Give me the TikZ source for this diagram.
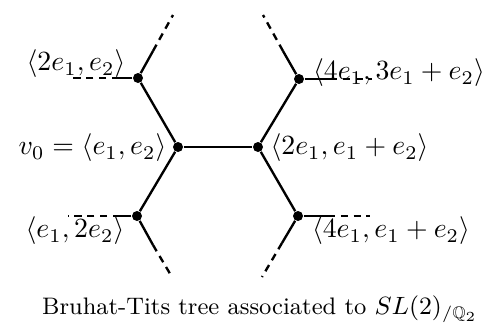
\documentclass[tikz,border=0pt]{standalone}
\usepackage{amssymb}
\usetikzlibrary{positioning}

\begin{document}
\begin{tikzpicture}[x=0.36pt,y=-0.36pt, vtx/.style={circle,fill,inner sep=0pt,minimum size=3.6pt}, edge/.style={line width=0.85pt}, tail/.style={line width=0.85pt,dash pattern=on 2.6pt off 2pt}, lab/.style={inner sep=0pt}]
\useasboundingbox (0,0) rectangle (492,331);
% vertices of the tree
\node[vtx] (v0) at (178,147) {};
\node[vtx] (w0) at (258,147) {};
\node[vtx] (ul) at (138,78) {};
\node[vtx] (ll) at (137,216) {};
\node[vtx] (ur) at (299,79) {};
\node[vtx] (lr) at (298,216) {};
% where the solid part stops, and the loose ends
\coordinate (ul-h) at (119,78);  \coordinate (ul-he) at (68,78);
\coordinate (ul-u) at (153,51);  \coordinate (ul-ue) at (173,15);
\coordinate (ll-h) at (120,216); \coordinate (ll-he) at (68,216);
\coordinate (ll-d) at (153,245); \coordinate (ll-de) at (172,277);
\coordinate (ur-h) at (330,79);  \coordinate (ur-he) at (372,79);
\coordinate (ur-u) at (283,51);  \coordinate (ur-ue) at (263,15);
\coordinate (lr-h) at (328,216); \coordinate (lr-he) at (370,216);
\coordinate (lr-d) at (282,243); \coordinate (lr-de) at (262,277);
\draw[edge] (v0)--(w0);\draw[edge] (v0)--(ul);\draw[edge] (v0)--(ll);\draw[edge] (w0)--(ur);\draw[edge] (w0)--(lr);
\draw[edge] (ul)--(ul-h);\draw[edge] (ul)--(ul-u);\draw[edge] (ll)--(ll-h);\draw[edge] (ll)--(ll-d);
\draw[edge] (ur)--(ur-h);\draw[edge] (ur)--(ur-u);\draw[edge] (lr)--(lr-h);\draw[edge] (lr)--(lr-d);
\draw[tail] (ul-h)--(ul-he);\draw[tail] (ul-u)--(ul-ue);\draw[tail] (ll-h)--(ll-he);\draw[tail] (ll-d)--(ll-de);
\draw[tail] (ur-h)--(ur-he);\draw[tail] (ur-u)--(ur-ue);\draw[tail] (lr-h)--(lr-he);\draw[tail] (lr-d)--(lr-de);
% labels
\node[lab] (l-ul) at (76,64) {$\langle 2e_1, e_2\rangle$};
\node[lab,anchor=east] (l-v0) at (167,148) {$v_0=\langle e_1, e_2\rangle$};
\node[lab] (l-ll) at (75,231) {$\langle e_1, 2e_2\rangle$};
\node[lab,anchor=west] (l-w0) at (270,148) {$\langle 2e_1, e_1+e_2\rangle$};
\node[lab] (l-ur) at (399,73) {$\langle 4e_1, 3e_1+e_2\rangle$};
\node[lab] (l-lr) at (391,231) {$\langle 4e_1, e_1+e_2\rangle$};
\node[lab,font=\fontsize{8.6pt}{10pt}\selectfont] (cap) at (260,309) {Bruhat-Tits tree associated to $SL(2)_{/\mathbb{Q}_2}$};
\end{tikzpicture}
\end{document}
